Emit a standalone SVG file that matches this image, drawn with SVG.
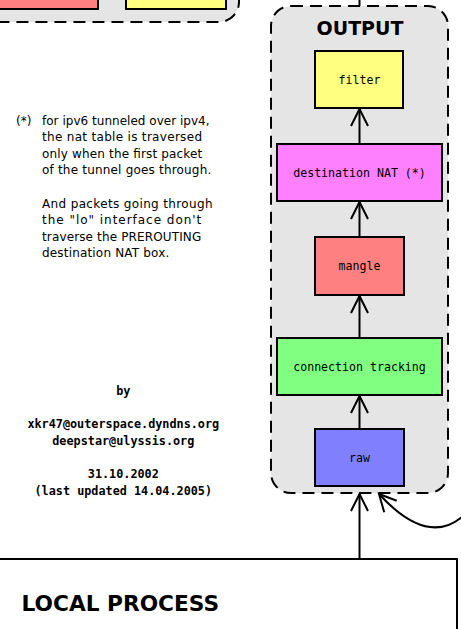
<svg xmlns="http://www.w3.org/2000/svg" width="461" height="629" viewBox="0 0 461 629">
<style>
.cont{fill:#e5e5e5;stroke:#000;stroke-width:2;stroke-dasharray:12,7}
.box{stroke:#000;stroke-width:2}
.lbl{font-family:"DejaVu Sans Mono","Liberation Mono",monospace;font-size:11.6px;text-anchor:middle;fill:#000}
.title{font-family:"DejaVu Sans","Liberation Sans",sans-serif;font-weight:bold;fill:#000}
.note{font-family:"DejaVu Sans","Liberation Sans",sans-serif;font-size:12px;fill:#000}
.cred{font-family:"DejaVu Sans Mono","Liberation Mono",monospace;font-weight:bold;font-size:11.8px;text-anchor:middle;fill:#000}
.conn{fill:none;stroke:#000;stroke-width:2}
</style>
<defs>
<marker id="arr" markerUnits="userSpaceOnUse" markerWidth="40" markerHeight="40" viewBox="-20 -20 40 40" refX="0" refY="0" orient="auto">
<path d="M -17 -8.5 L 0 0 L -17 8.5" fill="none" stroke="#000" stroke-width="2"/>
</marker>
</defs>
<g id="prev-chain">
<rect class="cont" x="-20" y="-40" width="259" height="62" rx="20"/>
<rect class="box" x="-10" y="-30" width="108" height="39" fill="#ff8080"/>
<rect class="box" x="126" y="-30" width="100" height="39" fill="#ffff80"/>
</g>
<g id="output">
<rect class="cont" x="271" y="6" width="177" height="487" rx="20"/>
<text class="title" x="360" y="35" font-size="19" text-anchor="middle">OUTPUT</text>
</g>
<g id="filter">
<rect class="box" x="315" y="51" width="88" height="57" fill="#ffff80"/>
<text class="lbl" x="359.5" y="83.5">filter</text>
</g>
<g id="dnat">
<rect class="box" x="277" y="144" width="165" height="57" fill="#ff80ff"/>
<text class="lbl" x="359.5" y="176.5">destination NAT (*)</text>
</g>
<g id="mangle">
<rect class="box" x="315" y="237" width="89" height="58" fill="#ff8080"/>
<text class="lbl" x="359.5" y="270">mangle</text>
</g>
<g id="conntrack">
<rect class="box" x="277" y="338" width="165" height="57" fill="#80ff80"/>
<text class="lbl" x="359.5" y="370.5">connection tracking</text>
</g>
<g id="raw">
<rect class="box" x="315" y="429" width="89" height="57" fill="#8080ff"/>
<text class="lbl" x="359.5" y="461.5">raw</text>
</g>
<g id="local-process">
<rect class="box" x="-10" y="559" width="467" height="100" fill="#fff"/>
<text class="title" x="21.5" y="610.5" font-size="21.7">LOCAL PROCESS</text>
</g>
<g id="notes">
<text class="note" x="16" y="124.5">(*)</text>
<text class="note" x="42" y="124.5" textLength="167.6" lengthAdjust="spacing">for ipv6 tunneled over ipv4,</text>
<text class="note" x="42" y="141.1" textLength="160" lengthAdjust="spacing">the nat table is traversed</text>
<text class="note" x="42" y="157.7" textLength="160.3" lengthAdjust="spacing">only when the first packet</text>
<text class="note" x="42" y="174.3" textLength="169.3" lengthAdjust="spacing">of the tunnel goes through.</text>
<text class="note" x="42" y="207.5" textLength="170.5" lengthAdjust="spacing">And packets going through</text>
<text class="note" x="42" y="224.1" textLength="159.3" lengthAdjust="spacing">the "lo" interface don't</text>
<text class="note" x="42" y="240.7" textLength="159.3" lengthAdjust="spacing">traverse the PREROUTING</text>
<text class="note" x="42" y="257.3" textLength="127.3" lengthAdjust="spacing">destination NAT box.</text>
</g>
<g id="credits">
<text class="cred" x="123.3" y="394.5">by</text>
<text class="cred" x="123.3" y="428">xkr47@outerspace.dyndns.org</text>
<text class="cred" x="123.3" y="444.8">deepstar@ulyssis.org</text>
<text class="cred" x="123.3" y="478.4">31.10.2002</text>
<text class="cred" x="123.3" y="495.2">(last updated 14.04.2005)</text>
</g>
<g id="connectors">
<path class="conn" d="M 359.5 6 L 359.5 -5"/>
<path class="conn" d="M 359.5 144 L 359.5 109" marker-end="url(#arr)"/>
<path class="conn" d="M 359.5 237 L 359.5 202" marker-end="url(#arr)"/>
<path class="conn" d="M 359.5 338 L 359.5 296" marker-end="url(#arr)"/>
<path class="conn" d="M 359.5 429 L 359.5 396" marker-end="url(#arr)"/>
<path class="conn" d="M 359.5 559 L 359.5 494" marker-end="url(#arr)"/>
<path class="conn" d="M 463 516 C 440 536 412 530 379 494" marker-end="url(#arr)"/>
</g>
</svg>
